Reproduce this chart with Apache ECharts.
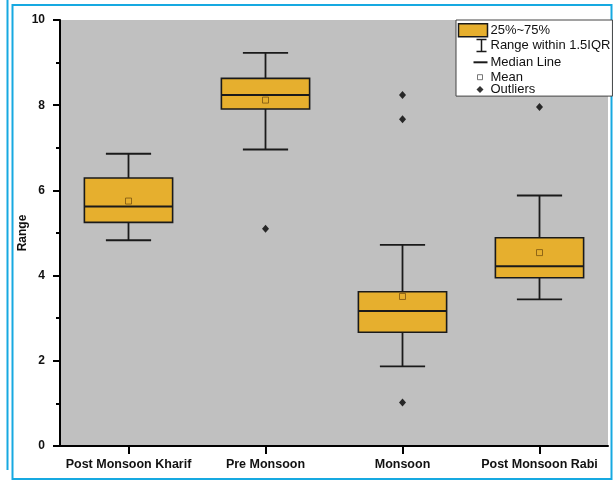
<!DOCTYPE html>
<html>
<head>
<meta charset="utf-8">
<script src="https://cdn.jsdelivr.net/npm/echarts@6/dist/echarts.min.js"></script>
<style>
  html, body { margin: 0; padding: 0; background: #ffffff; }
  #chart { width: 613px; height: 480px; }
</style>
</head>
<body>
<div id="chart"></div>
<script>
// Seasonal range statistics
const categories = ['Post Monsoon Kharif', 'Pre Monsoon', 'Monsoon', 'Post Monsoon Rabi'];
const whiskerLow  = [4.83, 6.96, 1.87, 3.44];
const quartile1   = [5.25, 7.91, 2.67, 3.95];
const medians     = [5.62, 8.24, 3.17, 4.22];
const quartile3   = [6.29, 8.63, 3.62, 4.89];
const whiskerHigh = [6.86, 9.23, 4.72, 5.88];
const means       = [5.75, 8.12, 3.51, 4.54];
const outliers = [
  ['Pre Monsoon', 5.10],
  ['Monsoon', 8.24],
  ['Monsoon', 7.67],
  ['Monsoon', 1.02],
  ['Post Monsoon Rabi', 7.96]
];
const yTicks = { min: 0, max: 10, interval: 2 };

const FONT = '"Liberation Sans", Arial, Helvetica, sans-serif';
const BOX_FILL = '#e6af2e';
const INK = '#1a1a1a';
const FRAME = '#17a9e1';

const chart = echarts.init(document.getElementById('chart'), null, { renderer: 'canvas' });

const boxData = categories.map((c, i) => [i, quartile1[i], quartile3[i]]);
const whiskerData = categories.map((c, i) => [i, whiskerLow[i], quartile1[i], quartile3[i], whiskerHigh[i]]);
const medianData = categories.map((c, i) => [i, medians[i]]);
const meanData = categories.map((c, i) => [i, means[i]]);

function renderBox(params, api) {
  const i = api.value(0);
  const lo = api.coord([i, api.value(1)]);
  const hi = api.coord([i, api.value(2)]);
  const hw = api.size([1, 0])[0] * 0.322;
  return {
    type: 'rect',
    shape: { x: lo[0] - hw, y: hi[1], width: hw * 2, height: lo[1] - hi[1] },
    style: { fill: BOX_FILL, stroke: INK, lineWidth: 1.6 }
  };
}

function renderWhisker(params, api) {
  const i = api.value(0);
  const pLow = api.coord([i, api.value(1)]);
  const pQ1 = api.coord([i, api.value(2)]);
  const pQ3 = api.coord([i, api.value(3)]);
  const pHigh = api.coord([i, api.value(4)]);
  const cw = api.size([1, 0])[0] * 0.165;
  const st = { stroke: INK, lineWidth: 1.8 };
  return {
    type: 'group',
    children: [
      { type: 'line', shape: { x1: pHigh[0], y1: pHigh[1], x2: pQ3[0], y2: pQ3[1] }, style: st },
      { type: 'line', shape: { x1: pQ1[0], y1: pQ1[1], x2: pLow[0], y2: pLow[1] }, style: st },
      { type: 'line', shape: { x1: pHigh[0] - cw, y1: pHigh[1], x2: pHigh[0] + cw, y2: pHigh[1] }, style: st },
      { type: 'line', shape: { x1: pLow[0] - cw, y1: pLow[1], x2: pLow[0] + cw, y2: pLow[1] }, style: st }
    ]
  };
}

function renderMedian(params, api) {
  const i = api.value(0);
  const p = api.coord([i, api.value(1)]);
  const hw = api.size([1, 0])[0] * 0.322;
  return {
    type: 'line',
    shape: { x1: p[0] - hw, y1: p[1], x2: p[0] + hw, y2: p[1] },
    style: { stroke: INK, lineWidth: 2 }
  };
}

const option = {
  backgroundColor: '#ffffff',
  animation: false,
  textStyle: { fontFamily: FONT },
  grid: {
    left: 60, right: 5, top: 20, bottom: 34,
    show: true, backgroundColor: '#c0c0c0', borderWidth: 0
  },
  legend: {
    orient: 'vertical',
    left: 456, top: 20,
    padding: [3, 2, 0, 0],
    itemGap: -1.1,
    itemWidth: 29, itemHeight: 13,
    backgroundColor: '#ffffff',
    borderColor: '#444444', borderWidth: 1,
    selectedMode: false,
    textStyle: { fontFamily: FONT, fontSize: 13, lineHeight: 13, color: '#111111',
      padding: [0, 0, 0, -2] },
    data: [
      { name: '25%~75%', icon: 'rect',
        itemStyle: { color: BOX_FILL, borderColor: INK, borderWidth: 1.5 } },
      { name: 'Range within 1.5IQR',
        icon: 'path://M0 0M29 13M18 0.5L28 0.5M23 0.5L23 12.5M18 12.5L28 12.5',
        itemStyle: { color: 'none', borderColor: INK, borderWidth: 1.5 } },
      { name: 'Median Line',
        icon: 'path://M0 0M29 13M15 6.5L29 6.5',
        itemStyle: { color: 'none', borderColor: INK, borderWidth: 2 } },
      { name: 'Mean',
        icon: 'path://M0 0M29 13M19 4L24 4L24 9L19 9Z',
        itemStyle: { color: '#ffffff', borderColor: '#555555', borderWidth: 1 } },
      { name: 'Outliers',
        icon: 'path://M0 0M29 13M21.5 3L25 6.5L21.5 10L18 6.5Z',
        itemStyle: { color: '#000000', borderColor: '#000000', borderWidth: 0 } }
    ]
  },
  xAxis: {
    type: 'category',
    data: categories,
    boundaryGap: true,
    axisLine: { lineStyle: { color: '#000000', width: 2 } },
    axisTick: { show: true, alignWithLabel: true, inside: false, length: 8,
      lineStyle: { color: '#000000', width: 2 } },
    axisLabel: { interval: 0, fontFamily: FONT, fontSize: 12.5, fontWeight: 'bold',
      color: '#111111', margin: 12 },
    splitLine: { show: false }
  },
  yAxis: {
    type: 'value',
    min: yTicks.min, max: yTicks.max, interval: yTicks.interval,
    name: 'Range',
    nameLocation: 'middle',
    nameGap: 31,
    nameMoveOverlap: false,
    nameTextStyle: { fontFamily: FONT, fontSize: 12, fontWeight: 'bold', color: '#111111' },
    axisLine: { show: true, lineStyle: { color: '#000000', width: 2 } },
    axisTick: { show: true, length: 7, lineStyle: { color: '#000000', width: 2 } },
    minorTick: { show: true, splitNumber: 2, length: 4, lineStyle: { color: '#000000', width: 2 } },
    axisLabel: { fontFamily: FONT, fontSize: 12, fontWeight: 'bold', color: '#111111', margin: 15 },
    splitLine: { show: false }
  },
  series: [
    { name: 'Range within 1.5IQR', type: 'custom', renderItem: renderWhisker,
      data: whiskerData, encode: { x: 0, y: [1, 4] }, z: 2 },
    { name: '25%~75%', type: 'custom', renderItem: renderBox,
      data: boxData, encode: { x: 0, y: [1, 2] }, z: 3 },
    { name: 'Median Line', type: 'custom', renderItem: renderMedian,
      data: medianData, encode: { x: 0, y: 1 }, z: 4 },
    { name: 'Mean', type: 'scatter', data: meanData, symbol: 'rect', symbolSize: 6, z: 5,
      itemStyle: { color: 'rgba(0,0,0,0)', borderColor: '#7a5410', borderWidth: 1 } },
    { name: 'Outliers', type: 'scatter', data: outliers, symbol: 'diamond', symbolSize: [7, 8], z: 5,
      itemStyle: { color: '#000000' } }
  ],
  graphic: [
    // page frame lines
    { type: 'line', silent: true, shape: { x1: 7.5, y1: 0, x2: 7.5, y2: 470 },
      style: { stroke: FRAME, lineWidth: 2 } },
    { type: 'rect', silent: true, shape: { x: 12.5, y: 5, width: 599, height: 474 },
      style: { fill: 'none', stroke: FRAME, lineWidth: 2 }, z: -1 }
  ]
};

chart.setOption(option);
</script>
</body>
</html>
